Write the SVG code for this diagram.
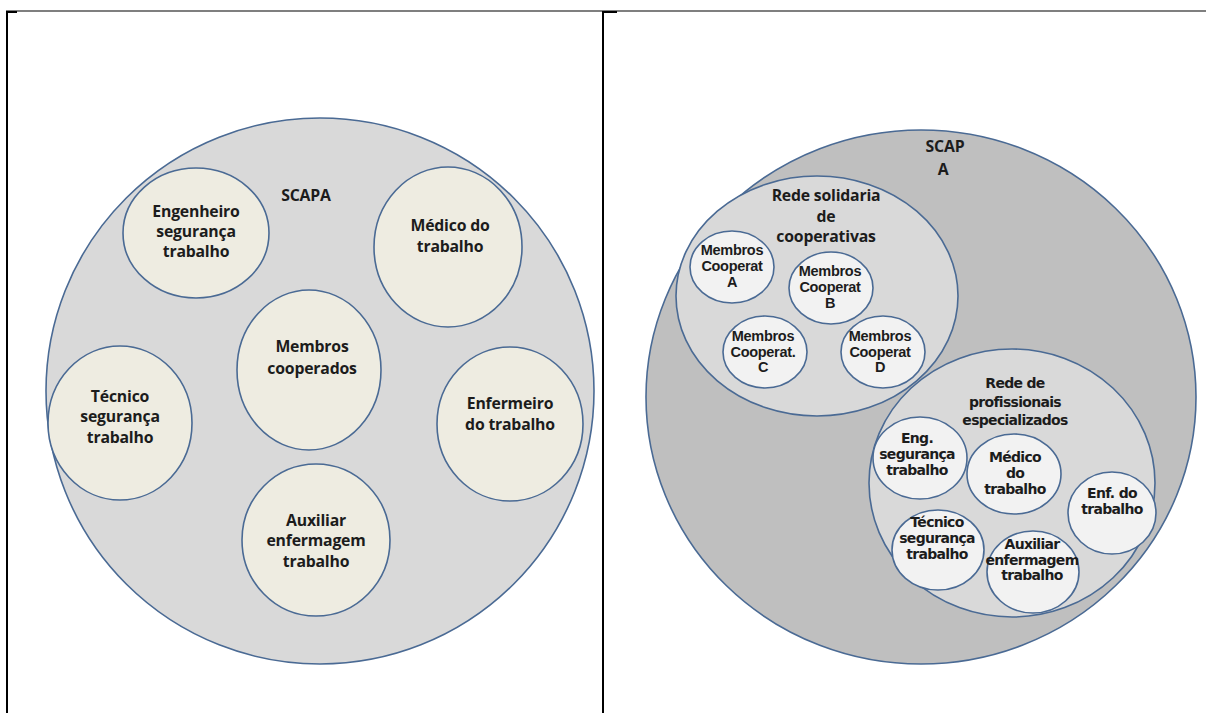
<svg xmlns="http://www.w3.org/2000/svg" width="1206" height="713" viewBox="0 0 1206 713">
<style>
.ln{stroke:#000;fill:none}
.c{stroke:#4a6a94;stroke-width:1.6}
.out{fill:#d9d9d9}
.dark{fill:#bfbfbf}
.mid{fill:#d9d9d9}
.beige{fill:#eeece1}
.light{fill:#f2f2f2}
text{font-family:"Open Sans","Liberation Sans",sans-serif;font-weight:bold;fill:#1c1c1c;text-anchor:middle}
.t1{font-size:15.8px;letter-spacing:-0.2px}
.t2{font-size:14.5px;font-family:"Liberation Sans","Open Sans",sans-serif;letter-spacing:-0.3px}
.t3{font-size:14px;font-family:"DejaVu Sans","Liberation Sans",sans-serif;letter-spacing:-0.7px}
</style>
<rect width="1206" height="713" fill="#fff"/>
<g id="table">
<line class="ln" x1="6" y1="11" x2="1206" y2="11" stroke-width="1.2"/>
<line class="ln" x1="7" y1="11" x2="7" y2="713" stroke-width="2"/>
<line class="ln" x1="603" y1="11" x2="603" y2="713" stroke-width="2"/>
<rect x="6" y="11" width="11" height="2" fill="#000"/>
<rect x="603" y="11" width="14" height="2" fill="#000"/>
</g>
<g id="connectors"></g>
<g id="scapa-left">
<ellipse class="c out" cx="320" cy="391" rx="274" ry="273"/>
<text class="t1" x="306" y="201">SCAPA</text>
</g>
<g id="eng-left">
<ellipse class="c beige" cx="196" cy="233" rx="73" ry="65"/>
<text class="t1" x="196" y="217">Engenheiro</text>
<text class="t1" x="196" y="237">segurança</text>
<text class="t1" x="196" y="257">trabalho</text>
</g>
<g id="medico-left">
<ellipse class="c beige" cx="448" cy="247" rx="74" ry="80"/>
<text class="t1" x="450" y="231">Médico do</text>
<text class="t1" x="450" y="252">trabalho</text>
</g>
<g id="membros-left">
<ellipse class="c beige" cx="309" cy="370" rx="72" ry="80"/>
<text class="t1" x="312" y="352">Membros</text>
<text class="t1" x="312" y="374">cooperados</text>
</g>
<g id="tecnico-left">
<ellipse class="c beige" cx="120" cy="423" rx="72" ry="77"/>
<text class="t1" x="120" y="402">Técnico</text>
<text class="t1" x="120" y="422">segurança</text>
<text class="t1" x="120" y="443">trabalho</text>
</g>
<g id="enf-left">
<ellipse class="c beige" cx="510" cy="424" rx="73" ry="77"/>
<text class="t1" x="510" y="409">Enfermeiro</text>
<text class="t1" x="510" y="430">do trabalho</text>
</g>
<g id="aux-left">
<ellipse class="c beige" cx="316" cy="540" rx="74" ry="76"/>
<text class="t1" x="316" y="526">Auxiliar</text>
<text class="t1" x="316" y="546">enfermagem</text>
<text class="t1" x="316" y="567">trabalho</text>
</g>
<g id="scapa-right">
<ellipse class="c dark" cx="921" cy="397" rx="275" ry="267"/>
<text class="t1" x="945" y="152">SCAP</text>
<text class="t1" x="943" y="175">A</text>
</g>
<g id="rede-solidaria">
<ellipse class="c mid" cx="817" cy="296" rx="141" ry="120"/>
<text class="t1" x="826" y="201">Rede solidaria</text>
<text class="t1" x="826" y="222">de</text>
<text class="t1" x="826" y="242">cooperativas</text>
</g>
<g id="coop-a">
<ellipse class="c light" cx="732" cy="267" rx="42" ry="36"/>
<text class="t2" x="732" y="255">Membros</text>
<text class="t2" x="732" y="271">Cooperat</text>
<text class="t2" x="732" y="287">A</text>
</g>
<g id="coop-b">
<ellipse class="c light" cx="831" cy="288" rx="42" ry="36"/>
<text class="t2" x="830" y="276">Membros</text>
<text class="t2" x="830" y="292">Cooperat</text>
<text class="t2" x="830" y="308">B</text>
</g>
<g id="coop-c">
<ellipse class="c light" cx="765" cy="352" rx="42" ry="36"/>
<text class="t2" x="763" y="341">Membros</text>
<text class="t2" x="763" y="357">Cooperat.</text>
<text class="t2" x="763" y="372">C</text>
</g>
<g id="coop-d">
<ellipse class="c light" cx="883" cy="352" rx="42" ry="36"/>
<text class="t2" x="880" y="341">Membros</text>
<text class="t2" x="880" y="357">Cooperat</text>
<text class="t2" x="880" y="372">D</text>
</g>
<g id="rede-profissionais">
<ellipse class="c mid" cx="1012" cy="483" rx="143" ry="134"/>
<text class="t3" x="1015" y="388">Rede de</text>
<text class="t3" x="1015" y="407">profissionais</text>
<text class="t3" x="1015" y="425">especializados</text>
</g>
<g id="eng-right">
<ellipse class="c light" cx="920" cy="458" rx="47" ry="41"/>
<text class="t3" x="917" y="443">Eng.</text>
<text class="t3" x="917" y="459">segurança</text>
<text class="t3" x="917" y="475">trabalho</text>
</g>
<g id="medico-right">
<ellipse class="c light" cx="1014" cy="474" rx="47" ry="40"/>
<text class="t3" x="1015" y="462">Médico</text>
<text class="t3" x="1015" y="478">do</text>
<text class="t3" x="1015" y="494">trabalho</text>
</g>
<g id="enf-right">
<ellipse class="c light" cx="1112" cy="513" rx="44" ry="41"/>
<text class="t3" x="1112" y="498">Enf. do</text>
<text class="t3" x="1112" y="514">trabalho</text>
</g>
<g id="tecnico-right">
<ellipse class="c light" cx="938" cy="550" rx="46" ry="40"/>
<text class="t3" x="937" y="527">Técnico</text>
<text class="t3" x="937" y="543">segurança</text>
<text class="t3" x="937" y="559">trabalho</text>
</g>
<g id="aux-right">
<ellipse class="c light" cx="1033" cy="572" rx="46" ry="41"/>
<text class="t3" x="1032" y="549">Auxiliar</text>
<text class="t3" x="1032" y="565">enfermagem</text>
<text class="t3" x="1032" y="580">trabalho</text>
</g>
</svg>
